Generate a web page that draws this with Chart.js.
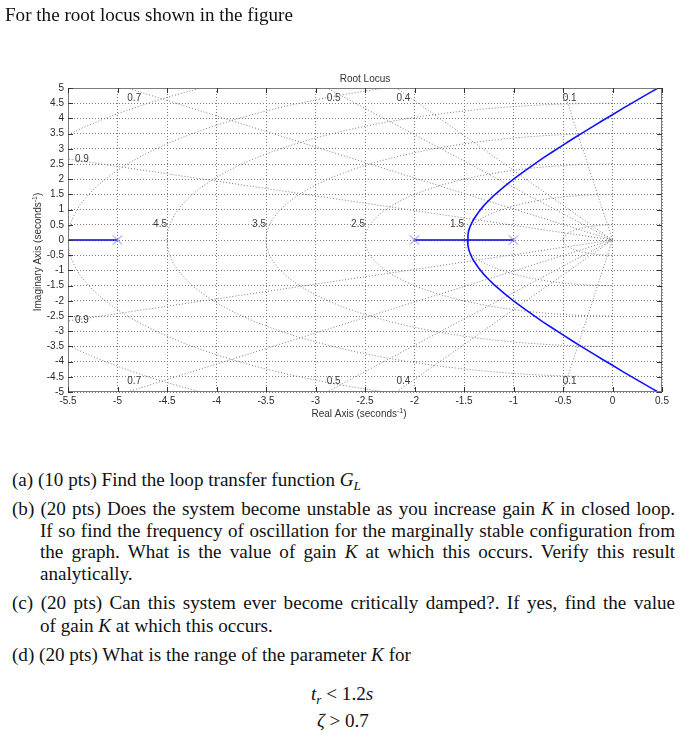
<!DOCTYPE html>
<html>
<head>
<meta charset="utf-8">
<script src="https://cdn.jsdelivr.net/npm/chart.js@4.4.1/dist/chart.umd.min.js"></script>
<style>
html,body{margin:0;padding:0;background:#fff;width:697px;height:746px;overflow:hidden;}
#wrap{position:absolute;left:0;top:0;width:697px;height:430px;}
.t{position:absolute;font-family:"Liberation Serif","Times New Roman",serif;font-size:19.1px;line-height:22px;color:#111;white-space:nowrap;z-index:2;}
.j{text-align:justify;text-align-last:justify;white-space:nowrap;}
.sub{font-size:70%;position:relative;top:4px;}
</style>
</head>
<body>
<div id="wrap"><canvas id="c" width="697" height="430"></canvas></div>

<div class="t" style="left:5px;top:3.5px;">For the root locus shown in the figure</div>
<div class="t" style="left:12px;top:468.5px;">(a) (10 pts) Find the loop transfer function <i>G<span class="sub">L</span></i></div>
<div class="t j" style="left:12px;top:497.5px;width:663px;">(b) (20 pts) Does the system become unstable as you increase gain <i>K</i> in closed loop.</div>
<div class="t j" style="left:40px;top:519.5px;width:635px;">If so find the frequency of oscillation for the marginally stable configuration from</div>
<div class="t j" style="left:40px;top:540.5px;width:635px;">the graph. What is the value of gain <i>K</i> at which this occurs. Verify this result</div>
<div class="t" style="left:40px;top:562.5px;">analytically.</div>
<div class="t j" style="left:12px;top:591.5px;width:663px;">(c) (20 pts) Can this system ever become critically damped?. If yes, find the value</div>
<div class="t" style="left:40px;top:614.5px;">of gain <i>K</i> at which this occurs.</div>
<div class="t" style="left:12px;top:643.5px;">(d) (20 pts) What is the range of the parameter <i>K</i> for</div>
<div class="t" style="left:311px;top:682.5px;"><i>t<span class="sub">r</span></i> &lt; 1.2<i>s</i></div>
<div class="t" style="left:317px;top:709.5px;"><i>ζ</i> &gt; 0.7</div>

<script>
// ---------------- data ----------------
const poles = [-5, -2, -1];
// real-axis locus segments (x extents)
const realLocusLeft = [-5.5, -5];
const realLocusMid = [-2, -1];
// complex branch (breakaway near -1.465)
const branchRe = [-1.465, -1.46, -1.45, -1.44, -1.42, -1.40, -1.35, -1.30, -1.25, -1.20, -1.15, -1.10, -1.00, -0.90, -0.80, -0.70, -0.60, -0.50, -0.40, -0.30, -0.20, -0.10, 0.00, 0.10, 0.20, 0.30, 0.40, 0.46];
const branchImUpper = [0, 0.19, 0.33, 0.43, 0.57, 0.69, 0.93, 1.13, 1.30, 1.46, 1.60, 1.74, 2.00, 2.24, 2.47, 2.70, 2.91, 3.12, 3.33, 3.53, 3.73, 3.93, 4.12, 4.32, 4.51, 4.70, 4.89, 5.00];
const branchImLower = [0, -0.19, -0.33, -0.43, -0.57, -0.69, -0.93, -1.13, -1.30, -1.46, -1.60, -1.74, -2.00, -2.24, -2.47, -2.70, -2.91, -3.12, -3.33, -3.53, -3.73, -3.93, -4.12, -4.32, -4.51, -4.70, -4.89, -5.00];
// s-plane grid
const dampingRatios = [0.1, 0.4, 0.5, 0.7, 0.9];
const naturalFreqs = [0.5, 1.5, 2.5, 3.5, 4.5, 5.5, 6.5];
const naturalFreqLabels = [1.5, 2.5, 3.5, 4.5];
// ticks
const xTickValues = [-5.5, -5, -4.5, -4, -3.5, -3, -2.5, -2, -1.5, -1, -0.5, 0, 0.5];
const xTickLabels = ['-5.5', '-5', '-4.5', '-4', '-3.5', '-3', '-2.5', '-2', '-1.5', '-1', '-0.5', '0', '0.5'];
const yTickValues = [-5, -4.5, -4, -3.5, -3, -2.5, -2, -1.5, -1, -0.5, 0, 0.5, 1, 1.5, 2, 2.5, 3, 3.5, 4, 4.5, 5];
const yTickLabels = ['-5', '-4.5', '-4', '-3.5', '-3', '-2.5', '-2', '-1.5', '-1', '-0.5', '0', '0.5', '1', '1.5', '2', '2.5', '3', '3.5', '4', '4.5', '5'];

// ---------------- build datasets ----------------
const LOCUS = '#1010ff';
const GRIDC = '#7c7c7c';
const datasets = [];

datasets.push({ data: poles.map(p => ({x: p, y: 0})), showLine: false, pointStyle: 'crossRot',
  pointRadius: 6.5, pointBorderColor: '#7b7bff', pointBackgroundColor: '#7b7bff', pointBorderWidth: 1, order: 0 });

datasets.push({ data: branchRe.map((r, i) => ({x: r, y: branchImUpper[i]})), showLine: true, pointRadius: 0,
  borderColor: LOCUS, borderWidth: 1.6, order: 1 });
datasets.push({ data: branchRe.map((r, i) => ({x: r, y: branchImLower[i]})), showLine: true, pointRadius: 0,
  borderColor: LOCUS, borderWidth: 1.6, order: 1 });
datasets.push({ data: realLocusLeft.map(v => ({x: v, y: 0})), showLine: true, pointRadius: 0,
  borderColor: '#0000e0', borderWidth: 1.6, order: 1 });
datasets.push({ data: realLocusMid.map(v => ({x: v, y: 0})), showLine: true, pointRadius: 0,
  borderColor: '#0000e0', borderWidth: 1.6, order: 1 });

// damping-ratio rays (grid construction)
dampingRatios.forEach(z => {
  const R = 9, w = Math.sqrt(1 - z * z);
  datasets.push({ data: [{x: -z * R, y: w * R}, {x: 0, y: 0}, {x: -z * R, y: -w * R}], showLine: true,
    pointRadius: 0, borderColor: GRIDC, borderWidth: 1, borderDash: [1, 2], order: 5 });
});
// natural-frequency circles (grid construction)
naturalFreqs.forEach(r => {
  const pts = [];
  for (let d = 90; d <= 270; d += 2) {
    const a = d * Math.PI / 180;
    pts.push({x: r * Math.cos(a), y: r * Math.sin(a)});
  }
  datasets.push({ data: pts, showLine: true, pointRadius: 0, borderColor: GRIDC, borderWidth: 1,
    borderDash: [1, 2], order: 5 });
});

// ---------------- overlay plugin ----------------
const overlay = {
  id: 'overlay',
  afterDraw(chart) {
    const {ctx, chartArea: a, scales: {x, y}} = chart;
    ctx.save();
    ctx.setLineDash([]);
    // box
    ctx.strokeStyle = '#7a7a7a';
    ctx.lineWidth = 1;
    ctx.strokeRect(a.left + 0.5, a.top + 0.5, a.right - a.left - 1, a.bottom - a.top - 1);
    // inward ticks
    ctx.strokeStyle = '#333';
    ctx.beginPath();
    xTickValues.forEach(v => {
      const px = Math.round(x.getPixelForValue(v)) + 0.5;
      ctx.moveTo(px, a.bottom); ctx.lineTo(px, a.bottom - 5);
      ctx.moveTo(px, a.top); ctx.lineTo(px, a.top + 5);
    });
    yTickValues.forEach(v => {
      const py = Math.round(y.getPixelForValue(v)) + 0.5;
      ctx.moveTo(a.left, py); ctx.lineTo(a.left + 5, py);
      ctx.moveTo(a.right, py); ctx.lineTo(a.right - 5, py);
    });
    ctx.stroke();

    // grid labels
    ctx.fillStyle = '#3a3a3a';
    ctx.font = '10px "Liberation Sans", Arial, sans-serif';
    dampingRatios.forEach(z => {
      const w = Math.sqrt(1 - z * z);
      const sTop = -5 * z / w; // sigma where ray meets top edge
      if (sTop >= -5.5) {
        const px = x.getPixelForValue(sTop);
        ctx.textAlign = 'left';
        ctx.textBaseline = 'top';
        ctx.fillText(String(z), px, a.top + 5);
        ctx.textBaseline = 'alphabetic';
        ctx.fillText(String(z), px, a.bottom - 8);
      } else {
        const wl = 5.5 * w / z;
        ctx.textAlign = 'left';
        ctx.textBaseline = 'middle';
        ctx.fillText(String(z), a.left + 7, y.getPixelForValue(wl));
        ctx.fillText(String(z), a.left + 7, y.getPixelForValue(-wl) - 1);
      }
    });
    naturalFreqLabels.forEach(r => {
      ctx.textAlign = 'right';
      ctx.textBaseline = 'alphabetic';
      ctx.fillText(String(r), x.getPixelForValue(-r), y.getPixelForValue(0) - 13);
    });

    // title
    ctx.fillStyle = '#333';
    ctx.font = '10px "Liberation Sans", Arial, sans-serif';
    ctx.textAlign = 'center';
    ctx.textBaseline = 'alphabetic';
    ctx.fillText('Root Locus', (a.left + a.right) / 2, 81.5);

    // axis label with superscript
    function labelWithSup(main, sup, tail) {
      const f = '10px "Liberation Sans", Arial, sans-serif';
      const fs = '7px "Liberation Sans", Arial, sans-serif';
      ctx.font = f; const w1 = ctx.measureText(main).width; const w3 = ctx.measureText(tail).width;
      ctx.font = fs; const w2 = ctx.measureText(sup).width;
      return {w: w1 + w2 + w3, draw(x0, y0) {
        ctx.textAlign = 'left'; ctx.textBaseline = 'alphabetic';
        ctx.font = f; ctx.fillText(main, x0, y0);
        ctx.font = fs; ctx.fillText(sup, x0 + w1, y0 - 4);
        ctx.font = f; ctx.fillText(tail, x0 + w1 + w2, y0);
      }};
    }
    const xl = labelWithSup('Real Axis (seconds', '-1', ')');
    xl.draw((a.left + a.right) / 2 - 6 - xl.w / 2, 417);
    const yl = labelWithSup('Imaginary Axis (seconds', '-1', ')');
    ctx.save();
    ctx.translate(41, 252);
    ctx.rotate(-Math.PI / 2);
    yl.draw(-yl.w / 2, 0);
    ctx.restore();
    ctx.restore();
  }
};

// ---------------- chart ----------------
new Chart(document.getElementById('c').getContext('2d'), {
  type: 'scatter',
  data: { datasets },
  options: {
    responsive: false,
    animation: false,
    devicePixelRatio: 1,
    layout: { padding: { left: 0, top: 88, right: 35, bottom: 8 } },
    plugins: { legend: { display: false }, tooltip: { enabled: false }, title: { display: false } },
    elements: { line: { tension: 0 } },
    scales: {
      x: {
        type: 'linear', min: -5.5, max: 0.5,
        afterBuildTicks: s => { s.ticks = xTickValues.map(v => ({value: v})); },
        afterFit: s => { s.height = 30; },
        ticks: { callback: (v, i) => xTickLabels[i], font: { family: 'Liberation Sans', size: 10 }, color: '#2a2a2a',
          padding: 3, maxRotation: 0, autoSkip: false },
        grid: { color: GRIDC, drawTicks: false, lineWidth: 1 },
        border: { display: false, dash: [1, 2] }
      },
      y: {
        type: 'linear', min: -5, max: 5,
        afterBuildTicks: s => { s.ticks = yTickValues.map(v => ({value: v})); },
        afterFit: s => { s.width = 68; },
        ticks: { callback: (v, i) => yTickLabels[i], font: { family: 'Liberation Sans', size: 10 }, color: '#2a2a2a',
          padding: 4, autoSkip: false },
        grid: { color: GRIDC, drawTicks: false, lineWidth: 1 },
        border: { display: false, dash: [1, 2] }
      }
    }
  },
  plugins: [overlay]
});
</script>
</body>
</html>
